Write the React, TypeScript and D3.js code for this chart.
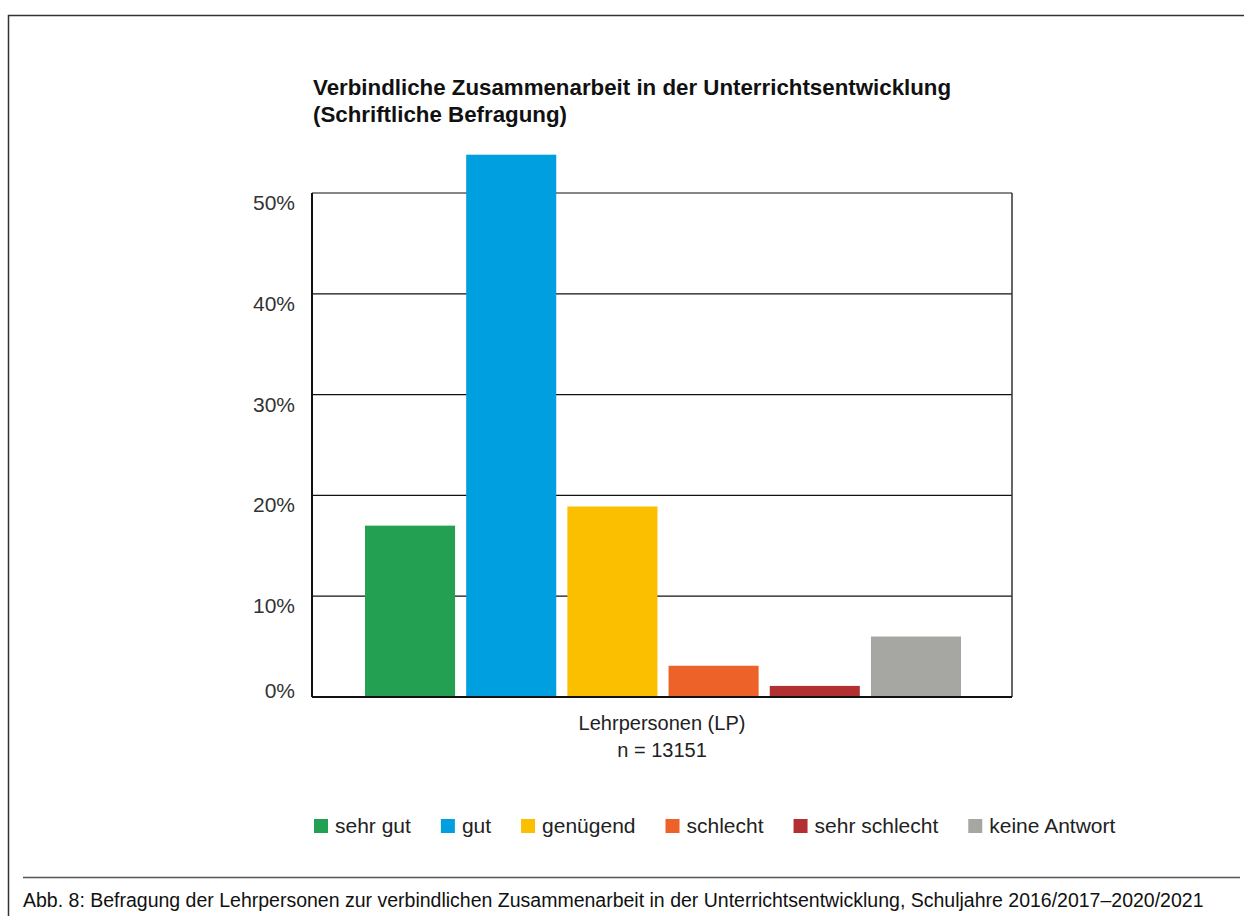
import * as d3 from 'd3';
import { useMemo } from 'react';

const categories = ['sehr gut', 'gut', 'genügend', 'schlecht', 'sehr schlecht', 'keine Antwort'];
const values = [17.0, 53.8, 18.9, 3.1, 1.1, 6.0];
const colors = ['#23a052', '#009fe0', '#fbbf00', '#ec6229', '#b33032', '#a6a7a2'];
const yTicks = [0, 10, 20, 30, 40, 50];
const titleLines = [
    'Verbindliche Zusammenarbeit in der Unterrichtsentwicklung',
    '(Schriftliche Befragung)',
];
const axisLines = ['Lehrpersonen (LP)', 'n = 13151'];
const caption =
    'Abb. 8: Befragung der Lehrpersonen zur verbindlichen Zusammenarbeit in der Unterrichtsentwicklung, Schuljahre 2016/2017–2020/2021';

const W = 1244;
const H = 916;
const FONT = "'Liberation Sans', Arial, sans-serif";
const plot = { left: 312, right: 1012, top: 193, bottom: 697 };

function measure(text: string, font: string) {
    const ctx = document.createElement('canvas').getContext('2d');
    if (!ctx) return text.length * 10;
    ctx.font = font;
    return ctx.measureText(text).width;
}

export default function App() {
    const x = d3
        .scaleBand<string>()
        .domain(categories)
        .range([365, 961])
        .paddingInner(0.11)
        .paddingOuter(0);
    const y = d3.scaleLinear().domain([0, 50]).range([plot.bottom, plot.top]);

    const legend = useMemo(() => {
        let cx = 314;
        return categories.map((c, i) => {
            const item = { x: cx, label: c, color: colors[i] };
            cx += 14 + 7 + measure(c, `21px ${FONT}`) + 30;
            return item;
        });
    }, []);

    return (
        <svg
            width={W}
            height={H}
            viewBox={`0 0 ${W} ${H}`}
            style={{ position: 'absolute', left: 0, top: 0, background: '#fff' }}
            fontFamily={FONT}
        >
            {/* outer frame */}
            <path d={`M8.5,${H}V15.5H${W}`} fill="none" stroke="#333" strokeWidth={1.5} />
            <line x1={23} x2={1240} y1={877.5} y2={877.5} stroke="#555" strokeWidth={1.5} />

            {/* title */}
            <text fontWeight="bold" fontSize={22.3} fill="#111">
                {titleLines.map((t, i) => (
                    <tspan key={i} x={313} y={95 + i * 27}>
                        {t}
                    </tspan>
                ))}
            </text>

            {/* gridlines */}
            {yTicks.map((t) => (
                <line
                    key={t}
                    x1={plot.left}
                    x2={plot.right}
                    y1={y(t)}
                    y2={y(t)}
                    stroke="#111"
                    strokeWidth={1.2}
                />
            ))}
            <line x1={plot.right} x2={plot.right} y1={plot.top} y2={plot.bottom} stroke="#333" strokeWidth={1.5} />

            {/* bars */}
            {categories.map((c, i) => (
                <rect
                    key={c}
                    x={x(c)}
                    y={y(values[i])}
                    width={x.bandwidth()}
                    height={y(0) - y(values[i])}
                    fill={colors[i]}
                />
            ))}

            {/* axes */}
            <line x1={plot.left} x2={plot.left} y1={plot.top} y2={plot.bottom} stroke="#111" strokeWidth={2} />
            <line x1={plot.left} x2={plot.right} y1={plot.bottom} y2={plot.bottom} stroke="#111" strokeWidth={2} />

            {/* tick labels */}
            {yTicks.map((t) => (
                <text
                    key={t}
                    x={295}
                    y={t === 0 ? y(t) + 1 : y(t) + 17}
                    textAnchor="end"
                    fontSize={21}
                    fill="#333"
                >
                    {`${t}%`}
                </text>
            ))}

            {/* axis label */}
            <text textAnchor="middle" fontSize={20} fill="#222">
                {axisLines.map((t, i) => (
                    <tspan key={i} x={(plot.left + plot.right) / 2} y={730 + i * 27}>
                        {t}
                    </tspan>
                ))}
            </text>

            {/* legend */}
            {legend.map((l) => (
                <g key={l.label} transform={`translate(${l.x},819)`}>
                    <rect width={14} height={14} fill={l.color} />
                    <text x={21} y={14} fontSize={21} fill="#222">
                        {l.label}
                    </text>
                </g>
            ))}

            {/* caption */}
            <text x={23} y={907} fontSize={19.5} fill="#111">
                {caption}
            </text>
        </svg>
    );
}
